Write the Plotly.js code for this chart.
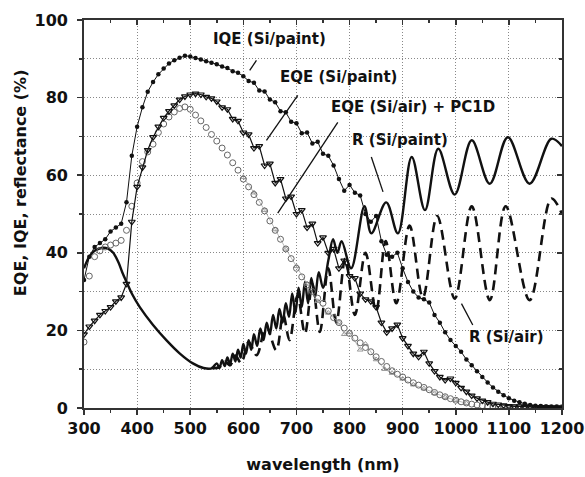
<!DOCTYPE html>
<html>
<head>
<meta charset="utf-8">
<script src="https://cdn.plot.ly/plotly-3.0.1.min.js"></script>
<style>html,body{margin:0;padding:0;background:#fff}#chart{width:585px;height:477px}</style>
</head>
<body>
<div id="chart"></div>
<script>
// ---- data ----
const wavelength = [300,310,320,330,340,350,360,370,380,390,400,410,420,430,440,450,460,470,480,490,500,510,520,530,540,550,560,570,580,590,600,610,620,630,640,650,660,670,680,690,700,710,720,730,740,750,760,770,780,790,800,810,820,830,840,850,860,870,880,890,900,910,920,930,940,950,960,970,980,990,1000,1010,1020,1030,1040,1050,1060,1070,1080,1090,1100,1110,1120,1130,1140,1150,1160,1170,1180,1190,1200];

const iqePaint = [33,39,41.5,42.5,43.5,45.5,46.5,47.5,53,65,72.5,77.5,81.5,84,86,87.5,88.8,89.6,90.3,90.8,90.6,90.2,89.8,89.4,89,88.6,88,87.6,86.8,86.4,85.5,84.3,83.8,81.8,81.6,79.5,78.8,76.5,76.2,73.8,73.4,70.8,71,68.2,68.6,65.5,65,62.5,59,56,57.5,55.5,54.8,50,48,49.5,43,39.5,39,40,36,32.5,30,28.5,28,27.2,24,22,19.5,17.5,16,14.5,12.5,11,9.5,8,6.6,5.3,4.2,3.3,2.5,1.9,1.5,1.1,0.8,0.6,0.5,0.4,0.3,0.3,0.2];

const eqePaint = [19,21,22.5,24,25,26,27.5,28.5,32,48,57,62,66.5,69.8,72.5,74.8,76.5,78,79.5,80.3,80.8,81,80.8,80.2,79.8,79,77.5,77,74.5,74,71,70.5,67,67.5,62.5,63,58,59,54,54.5,50,51,46.5,47.5,42.5,44,40,41,36,38,34,33.5,29.5,28,27.5,26,22,19.5,20.5,21.5,18,16,14,13.2,14.5,11.5,9.5,8,7.2,7.6,6.5,5.2,4.2,3.2,2.5,1.9,1.5,1.1,0.9,0.7,0.5,0.4,0.4,0.3,0.3,0.2,0.2,0.2,0.1,0.1,0.1];

const eqeAir = [17,34,39,40.5,41.5,42,42.5,43.2,45.8,52,58,63.5,66,68,71,73.2,75,76.3,77.2,77.6,77,75.5,74,72.3,70.5,68.8,67,65.2,63.2,61.3,59,57,55,53,50.8,48.2,45.8,43.5,41,38.5,36,33.8,31.7,30,28.3,27,25,23.3,22,20.6,19.2,18,16.8,15.6,14.5,13.2,12,10.7,9.6,8.7,8,7.2,6.5,5.9,5.3,4.7,4,3.4,2.9,2.4,2,1.6,1.3,1,0.8,0.6,0.4,0.3,0.2,0.2,0.1,0.1,0.1,0.1,0.1,0.1,0.1,0.1,0.1,0.1,0.1];

const pc1dWl = [600,620,640,660,680,700,720,740,760,780,790,800,820,830,850,866,880,900,920,940,960,980,1000,1020];
const pc1d   = [59.5,55.5,51,46,41,36.5,32,27.5,24.5,22,19,19.5,15,16.5,12.5,10,9,7.5,6,5,3.8,2.8,2,1.2];

const rPaintWl = [300,310,320,335,345,355,365,372,380,390,405,430,455,480,505,525,540,550,555,560,565,570,575,580,585,590,595,600,605,610,615,620,626,632,638,644,650,656,662,668,674,680,686,692,698,704,710,716,722,728,735,742,750,760,769,777,785,803,828,841,869,891,917,942,967,998,1030,1064,1098,1139,1180,1200];
const rPaint   = [36,39,40.5,41.3,41.1,40,37.5,35,32.5,29.5,26,21.4,17.5,14.1,11.5,10.3,10.2,11.5,10.3,12.3,10.8,13,11.3,14,12,15,13,16.5,14,17.5,15,19,16,20.5,17.5,22,19,24,20.5,25.5,22,27,23.5,29.5,24.5,31,26,32.5,27,33.5,28.5,35,31,38,43.5,40,43,36,52,45,53,45,64.7,51,66.8,55,69,57.8,69.8,57.8,69.4,67.5];

const rAirWl = [540,555,565,575,585,596,610,625,643,662,675,687,702,716,730,744,760,775,792,810,830,850,868,888,913,938,965,998,1030,1064,1094,1139,1180,1200];
const rAir   = [10.3,10.5,12,11,13.5,11.6,17,13.6,21,14.9,24,17.5,29,19.2,32,19.6,36,22,38.5,24,40,25,43,27,47,28.5,49.5,28.2,52,27.8,52,27.8,54,50];

const labels = ["IQE (Si/paint)","EQE (Si/paint)","EQE (Si/air) + PC1D","R (Si/paint)","R (Si/air)"];

// ---- traces ----
const traces = [
  {x: rAirWl, y: rAir, mode:'lines', name:labels[4], line:{color:'#111', width:2.6, dash:'10px,6px', shape:'spline', smoothing:1}},
  {x: rPaintWl, y: rPaint, mode:'lines', name:labels[3], line:{color:'#111', width:2.4, shape:'spline', smoothing:1}},
  {x: pc1dWl, y: pc1d, mode:'lines+markers', name:'PC1D', line:{color:'#aaa', width:0.8},
   marker:{symbol:'triangle-up-open', size:5, color:'#999', line:{width:1}}},
  {x: wavelength, y: eqeAir, mode:'markers', name:labels[2],
   marker:{symbol:'circle-open', size:6, color:'#666', line:{width:1}}},
  {x: wavelength, y: eqePaint, mode:'lines+markers', name:labels[1], line:{color:'#111', width:1.2},
   marker:{symbol:'triangle-down-open', size:6, color:'#111', line:{width:1.2}}},
  {x: wavelength, y: iqePaint, mode:'lines+markers', name:labels[0], line:{color:'#111', width:1},
   marker:{symbol:'circle', size:4.5, color:'#111'}},
  {x: [], y: [], xaxis:'x2', yaxis:'y2', showlegend:false, hoverinfo:'skip'}
];

const font = {family:'DejaVu Sans', size:16, color:'#111', weight:'bold'};
const annFont = {family:'DejaVu Sans', size:15, color:'#111', weight:'bold'};
const gridDash = '1px,2px';

const layout = {
  width:585, height:477,
  margin:{l:84, r:23, t:20, b:69},
  paper_bgcolor:'#fff', plot_bgcolor:'#fff',
  showlegend:false,
  font: font,
  xaxis:{range:[300,1200], dtick:100, tick0:300, ticks:'outside', ticklen:5, tickwidth:1.5, tickcolor:'#333',
    showline:true, linecolor:'#333', linewidth:1.8, zeroline:false,
    showgrid:true, gridcolor:'#888', gridwidth:1, griddash:gridDash,
    minor:{dtick:50, ticks:'outside', ticklen:3, tickcolor:'#333', showgrid:false},
    tickfont:font,
    title:{text:'wavelength (nm)', font:font, standoff:22}},
  yaxis:{range:[0,100], dtick:20, ticks:'outside', ticklen:5, tickwidth:1.5, tickcolor:'#333',
    showline:true, linecolor:'#333', linewidth:1.8, zeroline:false,
    showgrid:true, gridcolor:'#888', gridwidth:1, griddash:gridDash,
    minor:{dtick:10, ticks:'outside', ticklen:3, tickcolor:'#333', showgrid:true, gridcolor:'#888', griddash:gridDash},
    tickfont:font, ticklabelstandoff:6},
  xaxis2:{range:[300,1200], overlaying:'x', side:'top', anchor:'y2', dtick:100, tick0:300, ticks:'inside', ticklen:5, tickwidth:1.5, tickcolor:'#333',
    showline:true, linecolor:'#333', linewidth:1.8, showticklabels:false, showgrid:false, zeroline:false,
    minor:{dtick:50, ticks:'inside', ticklen:3, tickcolor:'#333'}},
  yaxis2:{range:[0,100], overlaying:'y', side:'right', anchor:'x2', dtick:20, ticks:'inside', ticklen:5, tickwidth:1.5, tickcolor:'#333',
    showline:true, linecolor:'#333', linewidth:1.8, showticklabels:false, showgrid:false, zeroline:false,
    minor:{dtick:10, ticks:'inside', ticklen:3, tickcolor:'#333'}},
  annotations:[
    {text:'EQE, IQE, reflectance (%)', xref:'paper', yref:'paper', x:-0.134, y:0.582, textangle:-90, showarrow:false, font:font, xanchor:'center', yanchor:'middle'},
    {text:labels[0], x:650, y:95.2, showarrow:false, font:annFont},
    {text:labels[1], x:780, y:85.2, showarrow:false, font:annFont},
    {text:labels[2], x:919, y:77.7, showarrow:false, font:annFont},
    {text:labels[3], x:894.5, y:69, showarrow:false, font:annFont},
    {text:labels[4], x:1096, y:18.3, showarrow:false, font:annFont}
  ],
  shapes:[
    {type:'line', x0:624.7, y0:89.6, x1:612, y1:87, line:{color:'#111', width:1.3}},
    {type:'line', x0:702.5, y0:80.6, x1:643.5, y1:69, line:{color:'#111', width:1.3}},
    {type:'line', x0:777.8, y0:73.6, x1:664.8, y1:50.2, line:{color:'#111', width:1.3}},
    {type:'line', x0:841, y0:64.7, x1:863, y1:55.7, line:{color:'#111', width:1.3}},
    {type:'line', x0:1010.7, y0:26.9, x1:1032, y1:21.4, line:{color:'#111', width:1.3}}
  ]
};

Plotly.newPlot('chart', traces, layout, {staticPlot:true, displayModeBar:false});
</script>
</body>
</html>
